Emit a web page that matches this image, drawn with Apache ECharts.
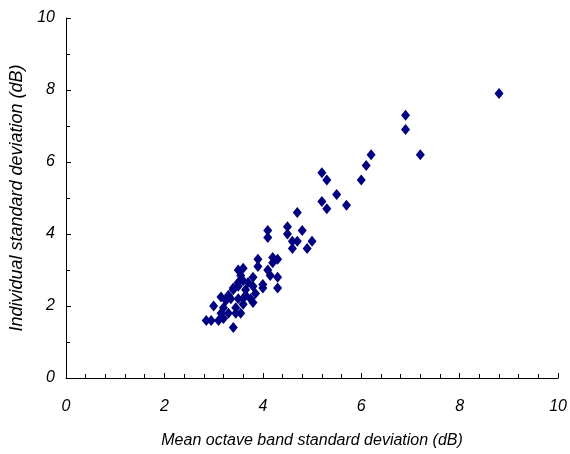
<!DOCTYPE html>
<html>
<head>
<meta charset="utf-8">
<script src="https://cdn.jsdelivr.net/npm/echarts@6/dist/echarts.min.js"></script>
<style>
  html, body { margin: 0; padding: 0; background: #fff; }
  #chart { width: 570px; height: 454px; }
</style>
</head>
<body>
<div id="chart"></div>
<script>
// mean octave band SD (x) vs individual SD (y), dB
const meanBandSD = [
  8.8, 6.9, 6.9, 7.2, 6.2, 6.1, 6.0, 5.2, 5.3, 5.5, 5.7, 5.2, 5.3, 4.7,
  4.1, 4.1, 4.5, 4.5, 4.8, 4.6, 4.7, 4.6, 5.0, 4.9,
  3.9, 3.9, 4.2, 4.3, 4.2, 4.1, 4.3, 4.3, 4.15,
  3.6, 3.5, 3.8, 3.55, 3.5, 3.7, 3.8, 4.0, 4.0, 3.85, 3.65, 3.4, 3.3, 3.15, 3.6, 3.75, 3.8, 3.6,
  3.0, 2.95, 3.1, 3.2, 3.15, 3.2, 3.25, 3.35, 3.4, 3.45, 3.45, 3.55, 3.4, 3.5, 3.6, 3.5, 3.65, 3.3, 2.85
];
const individualSD = [
  7.9, 7.3, 6.9, 6.2, 6.2, 5.9, 5.5, 5.7, 5.5, 5.1, 4.8, 4.9, 4.7, 4.6,
  4.1, 3.9, 4.2, 4.0, 4.1, 3.8, 3.8, 3.6, 3.8, 3.6,
  3.3, 3.1, 3.35, 3.3, 3.2, 3.0, 2.8, 2.5, 2.85,
  3.05, 3.0, 2.8, 2.85, 2.65, 2.65, 2.55, 2.6, 2.5, 2.35, 2.45, 2.5, 2.3, 2.25, 2.2, 2.2, 2.1, 2.05,
  2.0, 1.6, 1.6, 1.65, 1.8, 1.95, 2.15, 2.2, 1.4, 1.8, 1.95, 1.8, 2.45, 2.55, 2.7, 2.2, 2.3, 1.8, 1.6
];

const points = meanBandSD.map((x, i) => [x, individualSD[i]]);

const labelFont = {
  fontFamily: "Liberation Sans",
  fontStyle: "italic",
  fontSize: 16,
  color: "#000",
};

const chart = echarts.init(document.getElementById("chart"), null, { renderer: "canvas" });
chart.setOption({
  animation: false,
  grid: { left: 65, right: 9, top: 18, bottom: 76 },
  xAxis: {
    type: "value",
    min: 0,
    max: 10,
    interval: 2,
    name: "Mean octave band standard deviation (dB)",
    nameLocation: "middle",
    nameGap: 55,
    nameTextStyle: Object.assign({}, labelFont, { fontSize: 16 }),
    axisLine: { lineStyle: { color: "#000", width: 1 } },
    axisTick: { inside: true, length: 5, lineStyle: { color: "#000" } },
    minorTick: { show: true, splitNumber: 5, length: 4, lineStyle: { color: "#000" } },
    axisLabel: Object.assign({ margin: 21 }, labelFont),
    splitLine: { show: false },
  },
  yAxis: {
    type: "value",
    min: 0,
    max: 10,
    interval: 2,
    name: "Individual standard deviation (dB)",
    nameLocation: "middle",
    nameGap: 40,
    nameTextStyle: Object.assign({}, labelFont, { fontSize: 18 }),
    axisLine: { show: true, lineStyle: { color: "#000", width: 1 } },
    axisTick: { show: true, inside: true, length: 5, lineStyle: { color: "#000" } },
    minorTick: { show: true, splitNumber: 2, length: 4, lineStyle: { color: "#000" } },
    axisLabel: Object.assign({ margin: 11 }, labelFont),
    splitLine: { show: false },
  },
  series: [
    {
      type: "scatter",
      data: points,
      symbol: "diamond",
      symbolSize: [9, 11],
      itemStyle: { color: "#000080", opacity: 1 },
    },
  ],
});
</script>
</body>
</html>
